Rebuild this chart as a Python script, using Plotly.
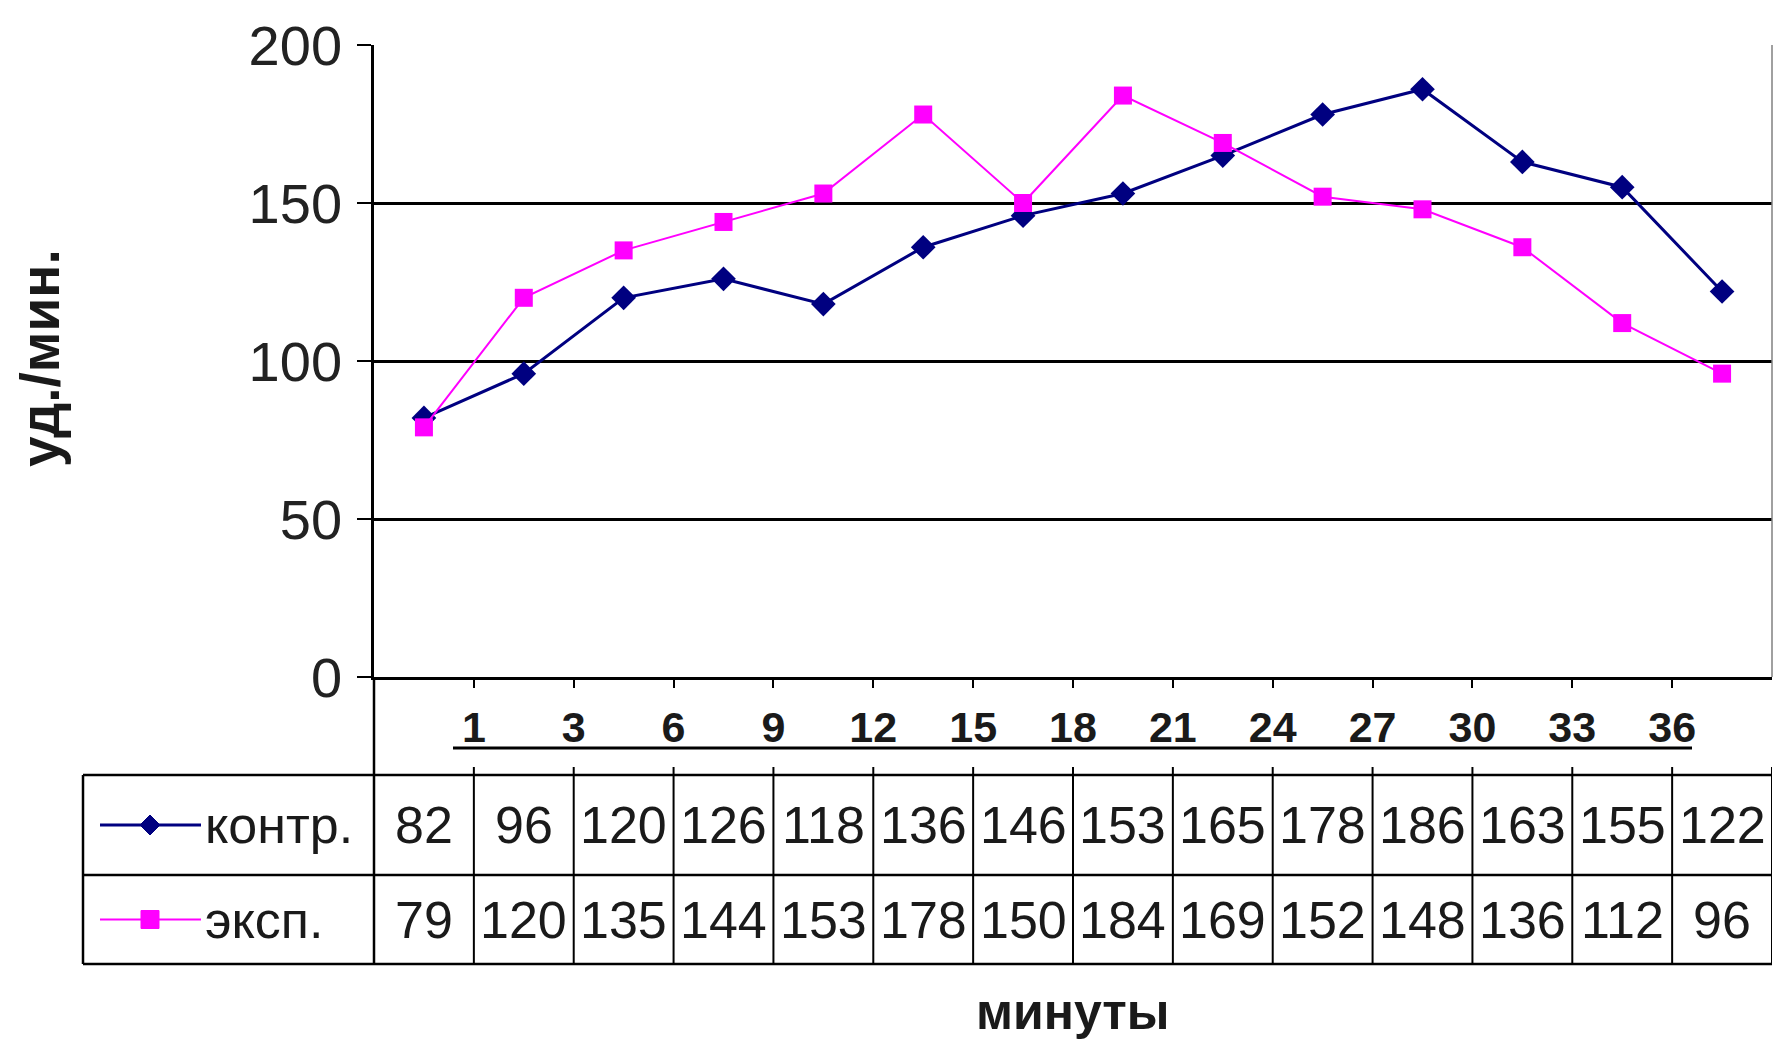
import plotly.graph_objects as go

# Heart-rate series (beats per minute) and the axis labels
series_names = ["контр.", "эксп."]
kontr = [82, 96, 120, 126, 118, 136, 146, 153, 165, 178, 186, 163, 155, 122]
eksp = [79, 120, 135, 144, 153, 178, 150, 184, 169, 152, 148, 136, 112, 96]
tick_labels = ["1", "3", "6", "9", "12", "15", "18", "21", "24", "27", "30", "33", "36"]
y_ticks = [0, 50, 100, 150, 200]
x_title = "минуты"
y_title = "уд./мин."

series_colors = ["#000080", "#FF00FF"]

W, H = 1775, 1048
M_L, M_R, M_T, M_B = 374, 3, 45, 371
PW = W - M_L - M_R
PH = H - M_T - M_B

SANS = "Liberation Sans, Arial, sans-serif"
TEXT = "#1a1a1a"


def px_x(p):
    """Pixel column -> paper x."""
    return (p - M_L) / PW


def px_y(p):
    """Pixel row -> paper y."""
    return (H - M_B - p) / PH


n = len(kontr)
xs = list(range(n))

fig = go.Figure()
fig.add_trace(go.Scatter(
    x=xs, y=kontr, name=series_names[0], mode="lines+markers",
    line=dict(color=series_colors[0], width=3),
    marker=dict(symbol="diamond", size=19, color=series_colors[0]),
    showlegend=False, cliponaxis=False,
))
fig.add_trace(go.Scatter(
    x=xs, y=eksp, name=series_names[1], mode="lines+markers",
    line=dict(color=series_colors[1], width=2),
    marker=dict(symbol="square", size=18, color=series_colors[1]),
    showlegend=False, cliponaxis=False,
))

shapes = []
annotations = []

# data table grid
row_top, row_mid, row_bot = 775, 875, 964
table_left = 83
for yy in (row_top, row_mid, row_bot):
    shapes.append(dict(type="line", xref="paper", yref="paper",
                       x0=px_x(table_left), x1=1.0, y0=px_y(yy), y1=px_y(yy),
                       line=dict(color="black", width=2.5)))
shapes.append(dict(type="line", xref="paper", yref="paper",
                   x0=px_x(table_left), x1=px_x(table_left),
                   y0=px_y(row_top), y1=px_y(row_bot),
                   line=dict(color="black", width=2.5)))
# value axis line continues down through the table
shapes.append(dict(type="line", xref="paper", yref="paper",
                   x0=0, x1=0, y0=px_y(M_T + PH), y1=px_y(row_bot),
                   line=dict(color="black", width=2.5)))
for i in range(n):
    shapes.append(dict(type="line", xref="x", yref="paper",
                       x0=i + 0.5, x1=i + 0.5, y0=px_y(767), y1=px_y(row_bot),
                       line=dict(color="black", width=2)))

# underline below category labels
shapes.append(dict(type="line", xref="paper", yref="paper",
                   x0=px_x(453), x1=px_x(1692), y0=px_y(748), y1=px_y(748),
                   line=dict(color="black", width=3)))

# legend keys inside the table
rows_c = [(row_top + row_mid) / 2, (row_mid + row_bot) / 2]
key_x0, key_x1, key_mid = 100, 201, 150
for r, (yc, col) in enumerate(zip(rows_c, series_colors)):
    shapes.append(dict(type="line", xref="paper", yref="paper",
                       x0=px_x(key_x0), x1=px_x(key_x1), y0=px_y(yc), y1=px_y(yc),
                       line=dict(color=col, width=3 if r == 0 else 2)))
    if r == 0:
        d = 10
        path = (f"M {px_x(key_mid - d)},{px_y(yc)} L {px_x(key_mid)},{px_y(yc - d)} "
                f"L {px_x(key_mid + d)},{px_y(yc)} L {px_x(key_mid)},{px_y(yc + d)} Z")
        shapes.append(dict(type="path", xref="paper", yref="paper", path=path,
                           fillcolor=col, line=dict(color=col, width=1)))
    else:
        d = 9
        shapes.append(dict(type="rect", xref="paper", yref="paper",
                           x0=px_x(key_mid - d), x1=px_x(key_mid + d),
                           y0=px_y(yc + d), y1=px_y(yc - d),
                           fillcolor=col, line=dict(color=col, width=1)))
    annotations.append(dict(xref="paper", yref="paper", x=px_x(203), y=px_y(yc),
                            text=series_names[r], showarrow=False,
                            xanchor="left", yanchor="middle",
                            font=dict(family=SANS, size=52, color=TEXT)))

# table values
for r, vals in enumerate([kontr, eksp]):
    for i, v in enumerate(vals):
        annotations.append(dict(xref="x", yref="paper", x=i, y=px_y(rows_c[r]),
                                text=str(v), showarrow=False,
                                xanchor="center", yanchor="middle",
                                font=dict(family=SANS, size=52, color=TEXT)))

# axis titles
annotations.append(dict(xref="paper", yref="paper", x=0.5, y=px_y(1012),
                        text=f"<b>{x_title}</b>", showarrow=False,
                        xanchor="center", yanchor="middle",
                        font=dict(family=SANS, size=50, color=TEXT)))
annotations.append(dict(xref="paper", yref="paper", x=px_x(40), y=px_y(358),
                        text=f"<b>{y_title}</b>", showarrow=False, textangle=-90,
                        xanchor="center", yanchor="middle",
                        font=dict(family=SANS, size=55, color=TEXT)))

# plot-area frame (right edge)
shapes.append(dict(type="line", xref="paper", yref="paper", x0=1, x1=1, y0=0, y1=1,
                   line=dict(color="#808080", width=1.5)))

fig.update_layout(
    width=W, height=H,
    margin=dict(l=M_L, r=M_R, t=M_T, b=M_B, pad=0),
    paper_bgcolor="white", plot_bgcolor="white",
    shapes=shapes, annotations=annotations,
    showlegend=False,
    xaxis=dict(
        range=[-0.5, n - 0.5],
        tickmode="array",
        tickvals=[i + 0.5 for i in range(len(tick_labels))],
        ticktext=[f"<b>{t}</b>" for t in tick_labels],
        ticks="outside", ticklen=8, tickwidth=2, tickcolor="black",
        showline=True, linecolor="black", linewidth=2.5,
        showgrid=False, zeroline=False,
        tickfont=dict(family=SANS, size=43, color=TEXT),
        ticklabelstandoff=3,
        fixedrange=True,
    ),
    yaxis=dict(
        range=[0, 200],
        tickmode="array", tickvals=y_ticks,
        ticks="outside", ticklen=14, tickwidth=2, tickcolor="black",
        showline=True, linecolor="black", linewidth=2.5,
        showgrid=True, gridcolor="black", gridwidth=2.5,
        zeroline=False,
        tickfont=dict(family=SANS, size=56, color="#222222"),
        ticklabelstandoff=4,
        fixedrange=True,
    ),
)

fig.write_html("out.html")
